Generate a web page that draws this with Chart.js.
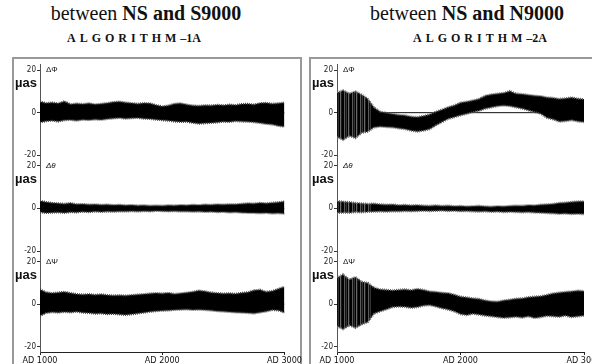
<!DOCTYPE html>
<html>
<head>
<meta charset="utf-8">
<script src="https://cdn.jsdelivr.net/npm/chart.js@4"></script>
<style>
body { margin: 0; width: 592px; height: 364px; background: #fff; position: relative; overflow: hidden; }
.title { position: absolute; top: 3px; font-family: "Liberation Serif", serif; font-size: 20px; line-height: 20px; white-space: nowrap; transform: translateX(-50%); color: #111; }
.algo { position: absolute; top: 32px; font-family: "Liberation Serif", serif; font-weight: bold; font-size: 12px; line-height: 12px; white-space: nowrap; transform: translateX(-50%); color: #111; }
.algo .sp { letter-spacing: 4px; }
.box { position: absolute; border: 2px solid #999; }
canvas { position: absolute; }
</style>
</head>
<body>
<div class="title" style="left:146px">between <b>NS and S9000</b></div>
<div class="title" style="left:467px">between <b>NS and N9000</b></div>
<div class="algo" style="left:134px"><span class="sp">ALGORITHM</span>–1A</div>
<div class="algo" style="left:480px"><span class="sp">ALGORITHM</span>–2A</div>
<div class="box" style="left:12px;top:57px;width:286px;height:400px"></div>
<div class="box" style="left:309px;top:57px;width:400px;height:400px"></div>
<canvas id="leftChart" width="288" height="305" style="left:14px;top:59px"></canvas>
<canvas id="rightChart" width="300" height="305" style="left:311px;top:59px"></canvas>
<script>
// time axis (years AD), one sample every 50 years
var years = [1000, 1050, 1100, 1150, 1200, 1250, 1300, 1350, 1400, 1450,
             1500, 1550, 1600, 1650, 1700, 1750, 1800, 1850, 1900, 1950,
             2000, 2050, 2100, 2150, 2200, 2250, 2300, 2350, 2400, 2450,
             2500, 2550, 2600, 2650, 2700, 2750, 2800, 2850, 2900, 2950, 3000];
var xTicks = [1000, 2000, 3000];
var yTicks = [-20, 0, 20];
var panelNames = ['ΔΦ', 'Δθ', 'ΔΨ'];

// upper / lower envelope of the residuals (µas), NS - S9000, algorithm 1A
var phiHi1 = [5.2, 4.5, 4.8, 4.4, 5.4, 4.0, 4.3, 4.1, 4.4, 3.9, 4.2, 4.5, 5.0, 5.2, 4.8, 4.5, 4.2, 4.5, 4.4, 3.6, 3.0, 3.4, 4.2, 4.4, 3.8, 3.4, 3.2, 3.5, 3.4, 3.7, 3.5, 3.8, 3.6, 4.1, 4.2, 3.8, 4.5, 4.6, 4.2, 4.4, 4.8];
var phiLo1 = [-4.6, -4.0, -3.8, -4.2, -3.6, -3.4, -3.8, -3.3, -3.5, -3.2, -3.4, -3.0, -2.7, -2.5, -2.8, -2.6, -2.5, -2.8, -3.0, -3.3, -3.6, -3.8, -4.2, -4.4, -4.3, -4.8, -5.2, -5.0, -4.8, -4.6, -4.3, -4.4, -4.0, -4.2, -4.3, -4.5, -4.9, -5.3, -5.6, -6.2, -6.6];
var thetaHi1 = [3.6, 3.0, 2.6, 2.4, 2.2, 2.5, 2.0, 2.1, 1.8, 1.9, 1.7, 1.8, 1.6, 1.7, 1.5, 1.6, 1.4, 1.5, 1.3, 1.4, 1.3, 1.5, 1.4, 1.6, 1.5, 1.7, 1.6, 1.8, 1.7, 1.9, 1.8, 2.0, 1.9, 2.2, 2.4, 2.3, 2.6, 2.4, 2.7, 2.9, 3.3];
var thetaLo1 = [-1.8, -2.2, -2.0, -1.9, -2.1, -1.8, -1.9, -1.6, -1.8, -1.5, -1.7, -1.5, -1.6, -1.4, -1.5, -1.3, -1.5, -1.3, -1.4, -1.2, -1.3, -1.4, -1.3, -1.5, -1.4, -1.6, -1.5, -1.7, -1.6, -1.8, -1.7, -1.9, -1.8, -2.0, -2.1, -2.2, -2.3, -2.2, -2.4, -2.3, -2.5];
var psiHi1 = [7.0, 5.6, 5.2, 5.5, 5.8, 5.2, 4.8, 4.5, 4.7, 4.4, 4.6, 4.3, 4.1, 4.2, 4.0, 4.3, 4.5, 4.7, 5.0, 5.2, 5.0, 5.3, 4.8, 5.1, 5.4, 5.8, 6.4, 6.0, 5.5, 5.2, 5.0, 5.1, 4.9, 5.3, 5.6, 6.5, 6.8, 5.8, 6.2, 7.2, 8.2];
var psiLo1 = [-5.6, -4.2, -3.8, -4.0, -3.7, -3.9, -3.6, -4.0, -4.2, -4.5, -4.4, -4.7, -4.6, -4.9, -5.1, -4.8, -4.4, -4.0, -3.6, -3.3, -3.1, -3.0, -2.7, -2.6, -2.5, -2.7, -2.6, -2.8, -3.0, -3.3, -3.5, -3.7, -3.9, -4.0, -4.2, -4.4, -3.9, -3.5, -2.8, -3.0, -4.0];

// NS - N9000, algorithm 2A
var phiHi2 = [9.5, 10.5, 9.0, 10.0, 8.5, 6.5, 2.5, 0.5, 0.0, -0.5, -1.0, -1.2, -1.8, -2.0, -1.5, -0.8, 0.5, 1.5, 2.6, 3.5, 4.8, 5.2, 5.8, 6.5, 8.0, 8.6, 9.0, 9.3, 10.2, 9.0, 8.8, 8.4, 8.0, 7.8, 7.2, 7.0, 6.5, 6.8, 7.2, 6.6, 6.4];
var phiLo2 = [-11.5, -12.8, -11.0, -12.0, -9.5, -9.0, -7.0, -6.6, -6.8, -7.0, -7.4, -7.8, -8.5, -8.9, -8.5, -7.8, -6.0, -4.5, -3.0, -2.2, -1.3, -0.6, 0.2, 0.8, 1.8, 2.4, 3.0, 3.3, 3.0, 2.4, 1.8, 1.0, 0.2, -0.6, -2.5, -3.2, -4.3, -4.0, -3.6, -4.2, -4.5];
var thetaHi2 = [3.6, 3.2, 3.0, 2.6, 2.4, 2.2, 2.3, 2.0, 1.8, 1.9, 1.6, 1.7, 1.5, 1.6, 1.4, 1.3, 1.5, 1.2, 1.4, 1.1, 1.2, 1.0, 1.1, 1.3, 1.0, 0.9, 1.1, 1.0, 1.2, 1.4, 1.3, 1.6, 1.5, 1.8, 2.0, 2.2, 2.6, 2.8, 3.1, 3.3, 3.4];
var thetaLo2 = [-2.3, -2.0, -2.1, -1.8, -1.9, -1.7, -1.6, -1.5, -1.6, -1.4, -1.5, -1.3, -1.4, -1.3, -1.2, -1.3, -1.2, -1.1, -1.3, -1.2, -1.4, -1.3, -1.5, -1.6, -1.5, -1.7, -1.6, -1.8, -1.7, -1.8, -1.9, -1.8, -2.0, -2.1, -2.3, -2.4, -2.6, -2.5, -2.7, -2.6, -2.8];
var psiHi2 = [12.5, 14.0, 11.5, 12.8, 10.5, 10.0, 7.8, 7.0, 6.8, 6.5, 6.8, 7.0, 6.6, 7.2, 6.8, 6.0, 5.8, 5.4, 5.2, 4.5, 3.6, 3.2, 2.8, 2.5, 1.8, 1.4, 1.2, 1.8, 2.2, 2.6, 2.8, 3.3, 3.6, 3.8, 4.4, 5.1, 5.5, 5.8, 6.0, 6.4, 6.2];
var psiLo2 = [-10.5, -11.8, -10.0, -11.2, -9.5, -8.5, -4.5, -3.5, -2.5, -1.5, -1.2, -1.4, -1.8, -1.5, -0.8, -0.5, -1.2, -2.0, -2.6, -3.5, -4.8, -5.2, -4.6, -5.0, -5.5, -5.8, -6.2, -6.5, -6.3, -6.0, -6.4, -5.8, -6.6, -6.2, -5.6, -5.8, -6.0, -5.5, -6.2, -5.8, -5.5];

var zeroLine = [0, 0];

var axisIds = ['yPhi', 'yTheta', 'yPsi'];
var narrow = "'Liberation Sans Narrow', 'DejaVu Sans Condensed', 'Liberation Sans', sans-serif";

function pts(arr) {
  return arr.map(function (v, i) { return { x: years[i], y: v }; });
}

// right panels: the early, noisier stretch shows grey/black strokes
var stripeCache = null;
function noisyFill(c) {
  var ch = c.chart;
  if (!ch.chartArea) return '#000';
  if (stripeCache) return stripeCache;
  var xEnd = ch.scales.x.getPixelForValue(1280);
  var tex = document.createElement('canvas');
  tex.width = ch.width; tex.height = 1;
  var tctx = tex.getContext('2d');
  var shades = ['#000', '#5a5a5a', '#111', '#333', '#000', '#6a6a6a', '#1a1a1a', '#000'];
  for (var x = 0; x < tex.width; x++) {
    tctx.fillStyle = x < xEnd ? shades[x % shades.length] : '#000';
    tctx.fillRect(x, 0, 1, 1);
  }
  stripeCache = ch.ctx.createPattern(tex, 'repeat-y');
  return stripeCache;
}

function bandSets(los, his, fill, edge) {
  var sets = [];
  for (var i = 0; i < 3; i++) {
    sets.push({ data: pts(los[i]), yAxisID: axisIds[i], borderColor: edge, borderWidth: 2, borderDash: [1, 1], pointRadius: 0, fill: false, order: 1 });
    sets.push({ data: pts(his[i]), yAxisID: axisIds[i], borderColor: edge, borderWidth: 2, borderDash: [1, 1], pointRadius: 0, fill: '-1', backgroundColor: fill, order: 1 });
    sets.push({ data: [{ x: xTicks[0], y: zeroLine[0] }, { x: xTicks[2], y: zeroLine[1] }], yAxisID: axisIds[i], borderColor: '#111', borderWidth: 1, pointRadius: 0, fill: false, order: 2 });
  }
  return sets;
}

function yAxis(weight) {
  return {
    type: 'linear', position: 'left', stack: 'panels', stackWeight: 1, weight: weight,
    min: -22.45, max: 22.45,
    afterBuildTicks: function (s) { s.ticks = yTicks.map(function (v) { return { value: v }; }); },
    afterFit: function (s) { s.width = 26; },
    border: { display: true, color: '#555', dash: [1, 2], width: 1 },
    grid: { drawOnChartArea: false, drawTicks: true, tickLength: 3, color: '#333' },
    ticks: { padding: 1, color: '#222', font: { family: narrow, size: 8 }, callback: function (v) { return v; } }
  };
}

var panelText = {
  id: 'panelText',
  afterDraw: function (chart) {
    var ctx = chart.ctx;
    ctx.save();
    ctx.fillStyle = '#111';
    ctx.textBaseline = 'middle';
    axisIds.forEach(function (id, i) {
      var s = chart.scales[id];
      ctx.font = "bold 13px 'Liberation Sans', sans-serif";
      ctx.fillText('µas', 1, s.getPixelForValue(13.5));
      ctx.font = (i === 1 ? 'italic ' : '') + "8px 'Liberation Sans', sans-serif";
      ctx.fillText(panelNames[i], chart.chartArea.left + 6, s.getPixelForValue(20));
    });
    ctx.restore();
  }
};

function makeChart(id, los, his, fill, edge, padRight) {
  return new Chart(document.getElementById(id), {
    type: 'line',
    data: { datasets: bandSets(los, his, fill, edge) },
    options: {
      responsive: false,
      animation: false,
      devicePixelRatio: 1,
      layout: { padding: { left: 0, right: padRight, top: 0, bottom: 0 } },
      elements: { line: { tension: 0 } },
      plugins: { legend: { display: false }, tooltip: { enabled: false } },
      scales: {
        x: {
          type: 'linear', min: 1000, max: 3000,
          afterBuildTicks: function (s) { s.ticks = xTicks.map(function (v) { return { value: v }; }); },
          afterFit: function (s) { s.height = 12; },
          border: { display: true, color: '#222', width: 1 },
          grid: { drawOnChartArea: false, drawTicks: true, tickLength: 3, color: '#222' },
          ticks: { padding: 0, maxRotation: 0, color: '#111', font: { family: narrow, size: 9 }, callback: function (v) { return 'AD ' + v; } }
        },
        yPhi: yAxis(3),
        yTheta: yAxis(2),
        yPsi: yAxis(1)
      }
    },
    plugins: [panelText]
  });
}

makeChart('leftChart', [phiLo1, thetaLo1, psiLo1], [phiHi1, thetaHi1, psiHi1], '#000', '#444', 14);
makeChart('rightChart', [phiLo2, thetaLo2, psiLo2], [phiHi2, thetaHi2, psiHi2], noisyFill, '#666', 27);
</script>
</body>
</html>
